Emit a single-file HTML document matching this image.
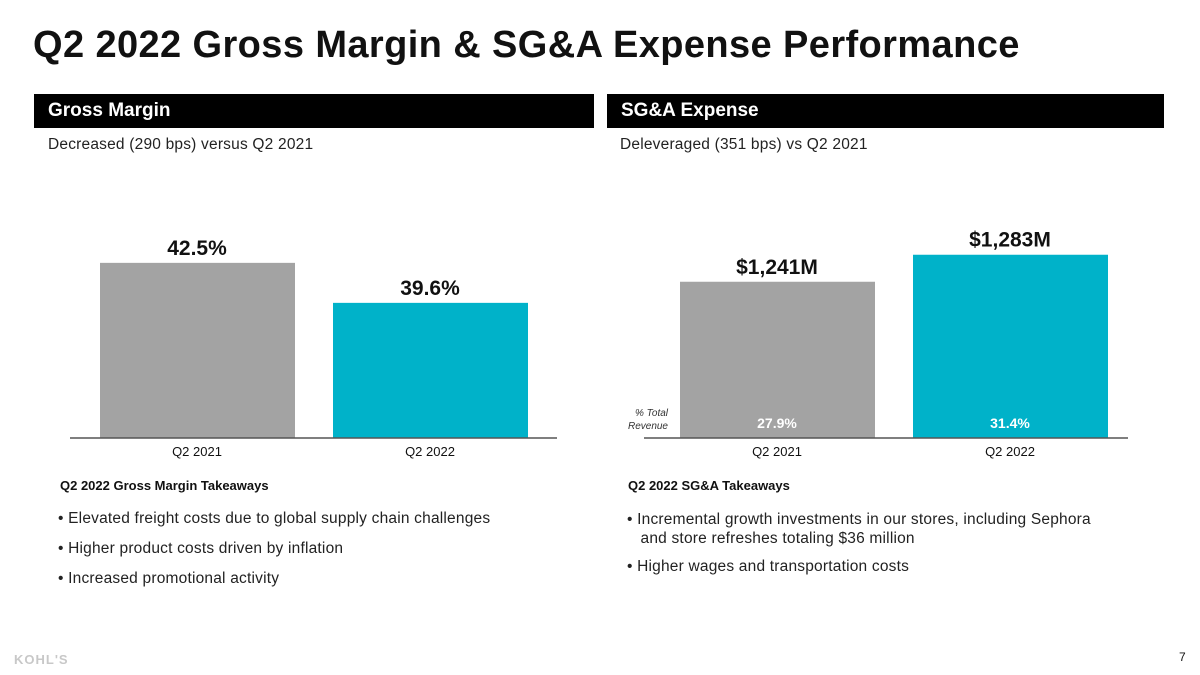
<!DOCTYPE html>
<html><head><meta charset="utf-8"><style>
body{margin:0;width:1200px;height:675px;background:#fff;font-family:"Liberation Sans",sans-serif;position:relative;overflow:hidden;color:#111}
.a{position:absolute;white-space:nowrap}
.hdr{position:absolute;background:#000;color:#fff;font-size:19px;font-weight:bold;padding-left:14px;line-height:34px;height:34px}
.b{font-size:15.5px;color:#222;letter-spacing:0.2px}
</style></head><body>
<div class="a" style="left:33px;top:24px;font-size:38px;font-weight:bold;letter-spacing:0.4px">Q2 2022 Gross Margin &amp; SG&amp;A Expense Performance</div>
<div class="hdr" style="left:34px;top:94px;width:546px">Gross Margin</div>
<div class="hdr" style="left:607px;top:94px;width:543px">SG&amp;A Expense</div>
<div class="a b" style="left:48px;top:136px">Decreased (290 bps) versus Q2 2021</div>
<div class="a b" style="left:620px;top:136px">Deleveraged (351 bps) vs Q2 2021</div>
<svg width="1200" height="675" style="position:absolute;left:0;top:0" id="chart"></svg>
<div class="a" style="left:60px;top:478px;font-size:13px;font-weight:bold">Q2 2022 Gross Margin Takeaways</div>
<div class="a" style="left:628px;top:478px;font-size:13px;font-weight:bold">Q2 2022 SG&amp;A Takeaways</div>
<div class="a b" style="left:58px;top:510px">• Elevated freight costs due to global supply chain challenges</div>
<div class="a b" style="left:58px;top:540px">• Higher product costs driven by inflation</div>
<div class="a b" style="left:58px;top:570px">• Increased promotional activity</div>
<div class="a b" style="left:627px;top:510px;line-height:19px">• Incremental growth investments in our stores, including Sephora<br>&nbsp;&nbsp;&nbsp;and store refreshes totaling $36 million</div>
<div class="a b" style="left:627px;top:558px">• Higher wages and transportation costs</div>
<div class="a" style="left:14px;top:652px;font-size:13px;font-weight:900;color:#c8c8c8;letter-spacing:1px">KOHL'S</div>
<div class="a" style="left:1179px;top:650px;font-size:12px">7</div>
<script>
const categories=["Q2 2021","Q2 2022"];
const gmValues=[42.5,39.6];
const gmLabels=["42.5%","39.6%"];
const sgaValues=[1241,1283];
const sgaLabels=["$1,241M","$1,283M"];
const sgaPct=["27.9%","31.4%"];
const colors=["#a3a3a3","#00b2c9"];
const svg=document.getElementById('chart');
const NS="http://www.w3.org/2000/svg";
function mk(t,a,txt){const e=document.createElementNS(NS,t);for(const k in a)e.setAttribute(k,a[k]);if(txt)e.textContent=txt;svg.appendChild(e);return e;}
const base=438;
function gmY(v){return base-(v-29.8)*13.79;}
function sgaY(v){return base-(v-998)*0.643;}
function draw(vals,labels,yf,xs,prefix){
 vals.forEach((v,i)=>{
  const y=yf(v);
  const r=mk('rect',{x:xs[i],y:y,width:195,height:base-y,fill:colors[i]});
  
  
  const t=mk('text',{x:xs[i]+97,y:y-8,'text-anchor':'middle','font-size':21,'font-weight':'bold',fill:'#111'},labels[i]);
  
  
  const c=mk('text',{x:xs[i]+97,y:base+18,'text-anchor':'middle','font-size':13,fill:'#111'},categories[i]);
  
  
 });
}
draw(gmValues,gmLabels,gmY,[100,333],'gm');
draw(sgaValues,sgaLabels,sgaY,[680,913],'sga');
sgaPct.forEach((p,i)=>{
 const t=mk('text',{x:[680,913][i]+97,y:428,'text-anchor':'middle','font-size':14,fill:'#fff','font-weight':'bold'},p);
 
 
});
const l1=mk('line',{x1:70,x2:557,y1:base,y2:base,stroke:'#555','stroke-width':1.5});


const l2=mk('line',{x1:644,x2:1128,y1:base,y2:base,stroke:'#555','stroke-width':1.5});


const p1=mk('text',{x:668,y:416,'text-anchor':'end','font-size':10,'font-style':'italic',fill:'#333'},'% Total');


const p2=mk('text',{x:668,y:429,'text-anchor':'end','font-size':10,'font-style':'italic',fill:'#333'},'Revenue');


</script>
</body></html>
